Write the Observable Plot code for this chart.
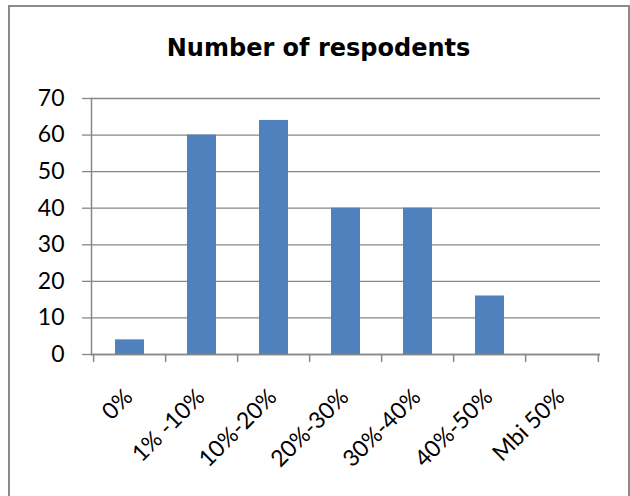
<!DOCTYPE html>
<html>
<head>
<meta charset="utf-8">
<script src="https://cdn.jsdelivr.net/npm/d3@7"></script>
<script src="https://cdn.jsdelivr.net/npm/@observablehq/plot@0.6"></script>
<style>
  html, body { margin: 0; padding: 0; background: #fff; overflow: hidden; }
  #wrap { position: relative; width: 630px; height: 496px; }
  #border {
    position: absolute; left: 8px; top: 5px; width: 622px; height: 520px;
    border: 2px solid #8b8b8b; box-sizing: border-box; pointer-events: none;
  }
  #chart { position: absolute; left: 0; top: 0; }
</style>
</head>
<body>
<div id="wrap"><div id="chart"></div><div id="border"></div></div>
<script>
// Survey answers grouped by share range
const categories = ["0%", "1% -10%", "10%-20%", "20%-30%", "30%-40%", "40%-50%", "Mbi 50%"];
const respondents = [4, 60, 64, 40, 40, 16, 0];
const yTicks = [0, 10, 20, 30, 40, 50, 60, 70];
const title = "Number of respodents";

const data = categories.map((c, i) => ({cat: c, n: respondents[i]}));

const W = 630, H = 496;
const mL = 91, mR = 30, mT = 98, mB = 142;
const step = (W - mL - mR) / categories.length;
const grid = "#878787";
const tickFont = "Lato, 'Liberation Sans', sans-serif";

const chart = Plot.plot({
  width: W,
  height: H,
  marginLeft: mL,
  marginRight: mR,
  marginTop: mT,
  marginBottom: mB,
  style: {fontFamily: tickFont, fontSize: "23px", color: "#000", background: "transparent"},
  x: {domain: categories, paddingInner: 0.6, paddingOuter: 0.3, axis: null},
  y: {domain: [0, 70], axis: null},
  marks: [
    Plot.gridY(yTicks, {stroke: grid, strokeOpacity: 1, strokeWidth: 1.3}),
    Plot.axisY(yTicks, {tickSize: 9, tickPadding: 18, stroke: grid, strokeWidth: 1.3, label: null,
      fontSize: 23, fontFamily: tickFont, fill: "#000"}),
    Plot.barY(data, {x: "cat", y: "n", fill: "#4F81BD"}),
    Plot.frame({anchor: "left", stroke: grid, strokeWidth: 1.5}),
    Plot.ruleY([0], {stroke: grid, strokeWidth: 1.5}),
    // category boundary ticks below the baseline
    Plot.axisX(categories, {tickSize: 8, tickFormat: () => "", label: null, stroke: grid, strokeWidth: 1.5, dx: -step / 2}),
    Plot.axisX([categories[categories.length - 1]], {tickSize: 8, tickFormat: () => "", label: null, stroke: grid, strokeWidth: 1.5, dx: step / 2}),
    // rotated category labels
    Plot.text(categories, {x: d => d, frameAnchor: "bottom", rotate: -45, textAnchor: "end",
      lineAnchor: "bottom", dx: 4, dy: 44, fontSize: 23, fontFamily: tickFont, fill: "#000"}),
    // chart title
    Plot.text([title], {frameAnchor: "top", dx: 318 - (mL + (W - mL - mR) / 2), dy: -43,
      lineAnchor: "bottom", fontSize: 24, fontWeight: "bold", fontFamily: "'DejaVu Sans', sans-serif", fill: "#000"})
  ]
});
document.getElementById("chart").appendChild(chart);
</script>
</body>
</html>
